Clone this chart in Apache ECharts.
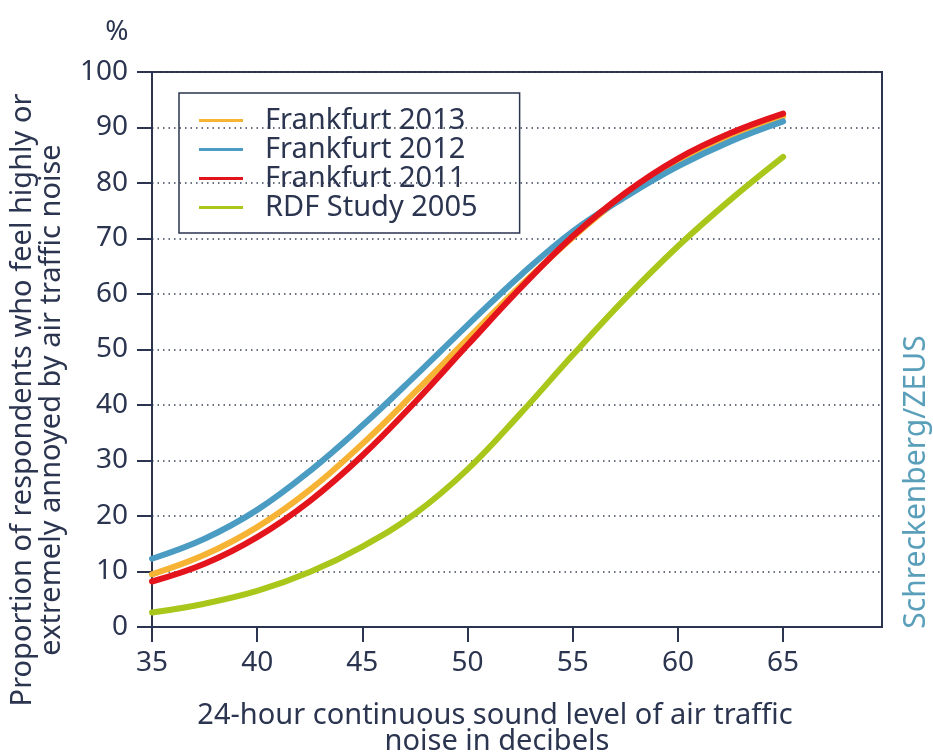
<!DOCTYPE html>
<html>
<head>
<meta charset="utf-8">
<script src="https://cdn.jsdelivr.net/npm/echarts@6/dist/echarts.min.js"></script>
<style>
    html, body { margin: 0; padding: 0; background: #fff; }
    #main { width: 933px; height: 754px; }
</style>
</head>
<body>
<div id="main"></div>
<script>
// noise level (dB) where the curves were read
var levels = [35, 37.5, 40, 42.5, 45, 47.5, 50, 52.5, 55, 57.5, 60, 62.5, 65];
// % highly annoyed, per study
var frankfurt2013 = [9.5, 13, 18, 24.7, 33, 42.3, 51.9, 61.4, 70.2, 77.9, 84.0, 88.6, 92.0];
var frankfurt2012 = [12.3, 15.9, 21.1, 28.1, 36.3, 45.2, 54.4, 63.3, 71.3, 77.5, 83.0, 87.5, 91.1];
var frankfurt2011 = [8.2, 11.4, 16.2, 22.7, 30.9, 40.5, 50.8, 61.0, 70.4, 78.2, 84.4, 89.0, 92.5];
var rdf2005 = [2.6, 4.2, 6.5, 9.9, 14.5, 20.4, 28.4, 38.4, 49.0, 59.2, 68.6, 77.0, 84.7];
var xTicks = [35, 40, 45, 50, 55, 60, 65];
var seriesNames = ['Frankfurt 2013', 'Frankfurt 2012', 'Frankfurt 2011', 'RDF Study 2005'];

var navy = '#2b3550';
var font = 'Noto Sans';

var pairs = function (ys) {
    return levels.map(function (x, i) { return [x, ys[i]]; });
};

var lineSeries = function (name, ys, color) {
    return {
        name: name,
        type: 'line',
        data: pairs(ys),
        smooth: 0.4,
        showSymbol: false,
        symbol: 'none',
        lineStyle: { width: 6, color: color, cap: 'round' },
        itemStyle: { color: color }
    };
};

var label = function (text, x, y, size, color, rotate) {
    return {
        type: 'text', x: x, y: y, rotation: rotate ? Math.PI / 2 : 0,
        style: {
            text: text, fill: color || navy, font: size + 'px "Noto Sans"',
            align: 'center', verticalAlign: 'middle'
        }
    };
};

var myChart = echarts.init(document.getElementById('main'));

var options = {
    backgroundColor: '#fff',
    animation: false,
    textStyle: { fontFamily: font },
    grid: {
        left: 152, right: 51, top: 72, bottom: 127,
        show: true, borderColor: navy, borderWidth: 2
    },
    legend: {
        orient: 'vertical',
        left: 179, top: 93,
        data: seriesNames,
        icon: 'rect',
        itemWidth: 44, itemHeight: 3,
        itemGap: 0,
        padding: [13, 42, 11, 20],
        borderColor: navy, borderWidth: 1.5,
        textStyle: {
            color: navy, fontSize: 29, lineHeight: 29, fontFamily: font,
            padding: [0, 0, 0, 17]
        }
    },
    xAxis: {
        type: 'value',
        min: 35, max: 69.7, interval: 5,
        axisLine: { lineStyle: { color: navy, width: 2 } },
        axisTick: { show: true, length: 15, customValues: xTicks, lineStyle: { color: navy, width: 2 } },
        axisLabel: { customValues: xTicks, color: navy, fontSize: 28, margin: 22 },
        splitLine: { show: false }
    },
    yAxis: {
        type: 'value',
        min: 0, max: 100, interval: 10,
        axisLine: { show: true, lineStyle: { color: navy, width: 2 } },
        axisTick: { show: true, length: 15, lineStyle: { color: navy, width: 2 } },
        axisLabel: { color: navy, fontSize: 28, margin: 24 },
        splitLine: { show: true, lineStyle: { color: '#3b4257', width: 1.5, type: [1.5, 4] } }
    },
    graphic: [
        label('%', 117, 32, 28),
        label('Proportion of respondents who feel highly or', 23, 400, 29, navy, true),
        label('extremely annoyed by air traffic noise', 52, 400, 29, navy, true),
        label('24-hour continuous sound level of air traffic', 495, 716, 29),
        label('noise in decibels', 497, 742, 29),
        label('Schreckenberg/ZEUS', 916, 482, 30, '#5a9fba', true)
    ],
    series: [
        lineSeries(seriesNames[0], frankfurt2013, '#f6b334'),
        lineSeries(seriesNames[1], frankfurt2012, '#4b9cc2'),
        lineSeries(seriesNames[2], frankfurt2011, '#e3141c'),
        lineSeries(seriesNames[3], rdf2005, '#a9c71b')
    ]
};

myChart.setOption(options);
</script>
</body>
</html>
